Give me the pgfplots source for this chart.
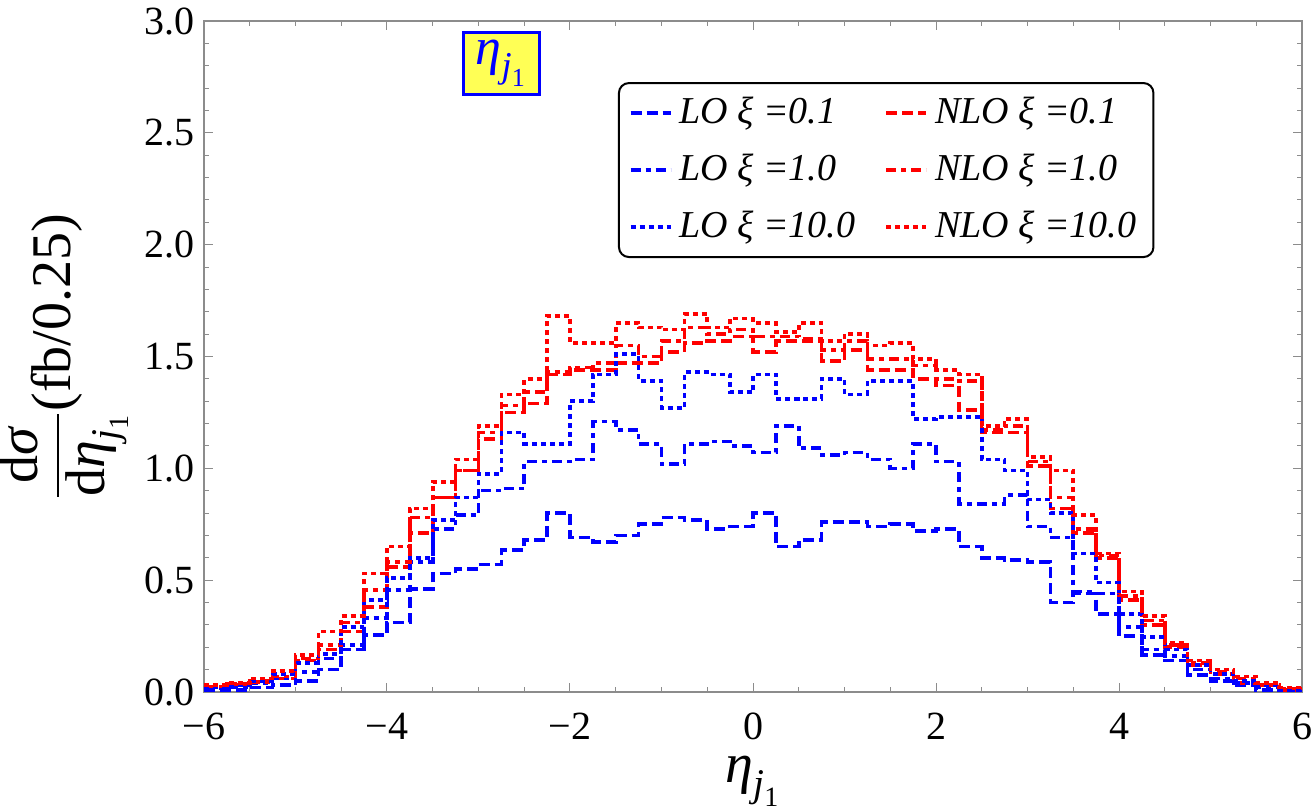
\documentclass[border=0pt]{standalone}
\usepackage{fontspec}
\setmainfont{Liberation Serif}
\usepackage{amsmath}
\usepackage{pgfplots}
\pgfplotsset{compat=1.18}
\usepackage{pgfplotstable}

\definecolor{boxyellow}{RGB}{255,255,85}
\definecolor{framegray}{RGB}{140,140,140}

% eta_j1 distributions, bin width 0.25; value of each bin at its left edge
\pgfplotstableread{
x      lo01   lo1    lo10   nlo01  nlo1   nlo10
-6.00  0.010  0.015  0.020  0.020  0.025  0.030
-5.75  0.010  0.020  0.030  0.030  0.035  0.040
-5.50  0.020  0.040  0.050  0.050  0.045  0.060
-5.25  0.030  0.060  0.080  0.060  0.070  0.094
-5.00  0.050  0.090  0.130  0.140  0.150  0.165
-4.75  0.100  0.150  0.170  0.190  0.210  0.270
-4.50  0.190  0.210  0.290  0.270  0.310  0.340
-4.25  0.255  0.330  0.410  0.380  0.455  0.530
-4.00  0.310  0.455  0.510  0.560  0.580  0.650
-3.75  0.460  0.580  0.600  0.710  0.780  0.820
-3.50  0.530  0.730  0.770  0.870  0.870  0.940
-3.25  0.550  0.790  0.870  0.990  0.990  1.040
-3.00  0.570  0.900  0.975  1.130  1.160  1.190
-2.75  0.635  0.910  1.160  1.250  1.280  1.330
-2.50  0.680  1.030  1.110  1.290  1.340  1.400
-2.25  0.800  1.030  1.110  1.420  1.430  1.680
-2.00  0.690  1.040  1.300  1.440  1.450  1.560
-1.75  0.670  1.210  1.420  1.440  1.470  1.560
-1.50  0.700  1.170  1.510  1.470  1.550  1.650
-1.25  0.750  1.110  1.390  1.470  1.500  1.630
-1.00  0.780  1.020  1.270  1.520  1.570  1.620
-0.75  0.770  1.110  1.430  1.560  1.630  1.690
-0.50  0.730  1.120  1.420  1.570  1.600  1.630
-0.25  0.740  1.100  1.340  1.590  1.620  1.670
 0.00  0.800  1.070  1.420  1.520  1.590  1.650
 0.25  0.650  1.190  1.310  1.570  1.590  1.610
 0.50  0.680  1.090  1.310  1.570  1.580  1.650
 0.75  0.760  1.060  1.400  1.480  1.530  1.570
 1.00  0.760  1.070  1.330  1.530  1.570  1.600
 1.25  0.740  1.040  1.390  1.440  1.490  1.550
 1.50  0.750  1.000  1.390  1.440  1.490  1.560
 1.75  0.720  1.110  1.220  1.400  1.460  1.490
 2.00  0.730  1.030  1.230  1.370  1.400  1.440
 2.25  0.650  0.840  1.230  1.260  1.390  1.420
 2.50  0.600  0.840  1.040  1.160  1.170  1.190
 2.75  0.590  0.880  0.990  1.160  1.190  1.220
 3.00  0.580  0.740  0.860  1.010  1.030  1.050
 3.25  0.400  0.690  0.800  0.820  0.870  0.990
 3.50  0.440  0.450  0.620  0.710  0.730  0.790
 3.75  0.350  0.440  0.490  0.600  0.610  0.620
 4.00  0.250  0.290  0.350  0.410  0.430  0.450
 4.25  0.165  0.190  0.245  0.300  0.320  0.340
 4.50  0.140  0.160  0.190  0.200  0.210  0.220
 4.75  0.075  0.100  0.120  0.120  0.130  0.140
 5.00  0.050  0.060  0.080  0.080  0.090  0.100
 5.25  0.030  0.040  0.050  0.040  0.060  0.070
 5.50  0.010  0.020  0.030  0.030  0.030  0.040
 5.75  0.005  0.010  0.010  0.010  0.015  0.020
 6.00  0.005  0.010  0.010  0.010  0.015  0.020
}\etadata

\newcommand{\etaj}{$\textit{η}_{\textit{j}_{\text{1}}}$}

\begin{document}
\begin{tikzpicture}
\begin{axis}[
  scale only axis,
  width=549pt, height=335.5pt,
  xmin=-6, xmax=6, ymin=0, ymax=3,
  xtick={-6,-4,...,6},
  xticklabels={−6,−4,−2,0,2,4,6},
  ytick={0,0.5,...,3},
  yticklabels={0.0,0.5,1.0,1.5,2.0,2.5,3.0},
  minor x tick num=3,
  minor y tick num=4,
  tick align=inside,
  major tick length=4.5pt,
  minor tick length=2.5pt,
  every tick/.style={framegray, line width=0.5pt},
  axis line style={framegray, line width=0.6pt},
  ticklabel style={font=\fontsize{20}{24}\selectfont, black},
  xticklabel style={yshift=-7pt},
  yticklabel style={xshift=-1pt},
  every axis x label/.style={at={(axis description cs:0.5,-0.133)}, anchor=center, inner sep=0pt},
  every axis y label/.style={at={(axis description cs:-0.128,0.5)}, anchor=center, rotate=90, inner sep=0pt},
  xlabel={\etaj},
  ylabel={$\displaystyle\frac{\text{d}\textit{σ}}{\text{d}\textit{η}_{\textit{j}_{\text{1}}}}$(fb/0.25)},
  label style={font=\fontsize{28}{34}\selectfont},
  legend columns=2,
  legend cell align=left,
  legend image code/.code={\draw[#1, line width=1.8pt] (0pt,0pt) -- (20pt,0pt);},
  legend style={
    at={(rel axis cs:0.377,0.909)}, anchor=north west,
    draw=black, line width=1pt, rounded corners=5pt, fill=white,
    font=\fontsize{19}{23}\selectfont\itshape,
    inner xsep=5pt, inner ysep=4pt,
    nodes={text height=14pt, text depth=4pt, inner xsep=3.5pt, inner ysep=2pt},
    row sep=6.5pt,
    /tikz/every odd column/.append style={column sep=0pt},
    /tikz/every even column/.append style={column sep=11pt},
  },
  every axis plot/.append style={const plot mark left, line width=1.8pt},
]
\coordinate (sw) at (rel axis cs:0,0);
\coordinate (ne) at (rel axis cs:1,1);

\addplot[blue, dash pattern=on 5.5pt off 2.5pt] table[x=x, y=lo01] {\etadata};
\addlegendentry{LO ξ =0.1}
\addplot[red, dash pattern=on 5.5pt off 2.5pt] table[x=x, y=nlo01] {\etadata};
\addlegendentry{NLO ξ =0.1}
\addplot[blue, dash pattern=on 5pt off 2.5pt on 2.5pt off 2.5pt] table[x=x, y=lo1] {\etadata};
\addlegendentry{LO ξ =1.0}
\addplot[red, dash pattern=on 5pt off 2.5pt on 2.5pt off 2.5pt] table[x=x, y=nlo1] {\etadata};
\addlegendentry{NLO ξ =1.0}
\addplot[blue, dash pattern=on 2.5pt off 2pt] table[x=x, y=lo10] {\etadata};
\addlegendentry{LO ξ =10.0}
\addplot[red, dash pattern=on 2.5pt off 2pt] table[x=x, y=nlo10] {\etadata};
\addlegendentry{NLO ξ =10.0}

\node[fill=boxyellow, draw=blue, line width=1.2pt, text=blue,
      font=\fontsize{26}{30}\selectfont, inner sep=4pt,
      minimum width=38pt, minimum height=29pt]
  at (axis cs:-2.75,2.81) {\etaj};
\end{axis}
\pgfresetboundingbox
\path[use as bounding box] ([shift={(-102pt,-59.5pt)}]sw) rectangle ([shift={(6.5pt,10.5pt)}]ne);
\end{tikzpicture}
\end{document}
